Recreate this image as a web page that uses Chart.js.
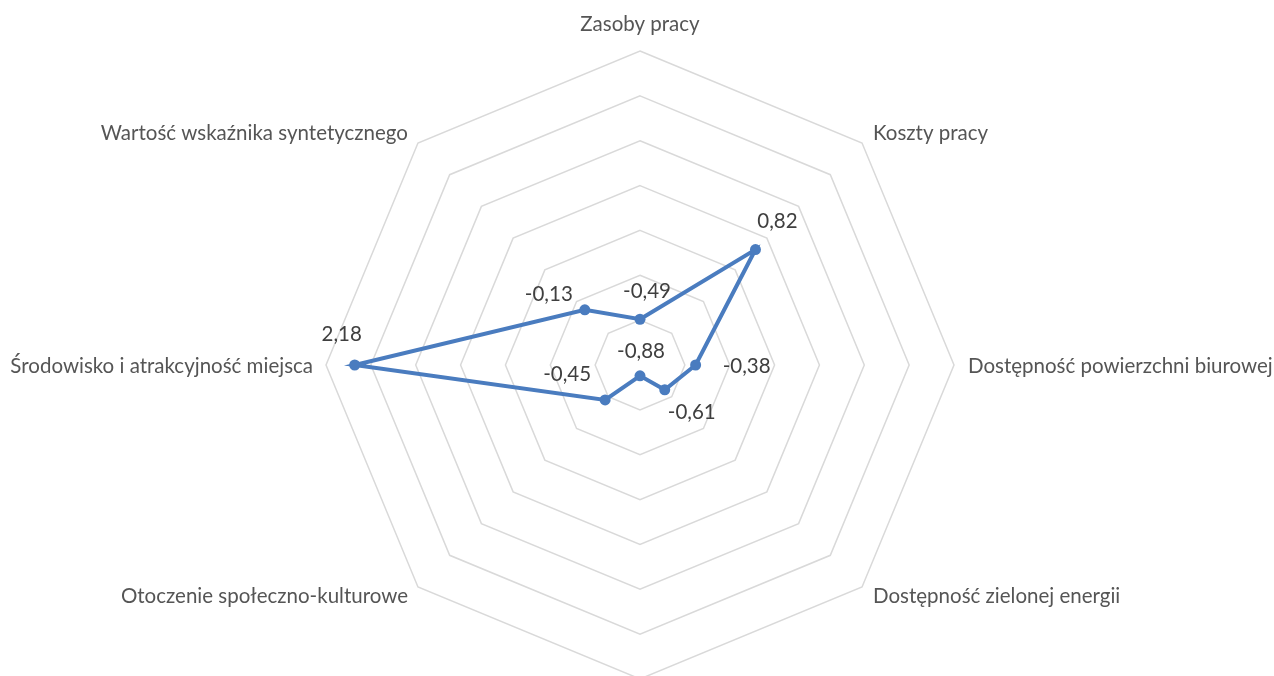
<!DOCTYPE html>
<html>
<head>
<meta charset="utf-8">
<script src="https://cdn.jsdelivr.net/npm/chart.js@4"></script>
<style>
html,body{margin:0;padding:0;background:#fff;overflow:hidden;}
#wrap{width:1274px;height:676px;overflow:hidden;position:relative;}
canvas{display:block;}
</style>
</head>
<body>
<div id="wrap"><canvas id="c" width="1274" height="700"></canvas></div>
<script>
// Categories (bottom axis label lies outside the visible picture)
const categories = [
  "Zasoby pracy",
  "Koszty pracy",
  "Dostępność powierzchni biurowej",
  "Dostępność zielonej energii",
  "",
  "Otoczenie społeczno-kulturowe",
  "Środowisko i atrakcyjność miejsca",
  "Wartość wskaźnika syntetycznego"
];
const values = [-0.49, 0.82, -0.38, -0.61, -0.88, -0.45, 2.18, -0.13];
const scaleMin = -1;
const scaleMax = 2.5;
const scaleStep = 0.5;

// label placement (style): offset of data label centre from its point
const labelOffsets = [[7,-28],[22,-28],[51,1],[27,23],[1,-24],[-38,-26],[-13,-31],[-36,-15]];

const LINE = '#4a7cbf';
const FONT = 'Lato, "Open Sans", sans-serif';

const pointLabelPlugin = {
  id: 'pointLabelsCustom',
  afterDraw(chart) {
    const s = chart.scales.r;
    const ctx = chart.ctx;
    ctx.save();
    ctx.font = '20.5px ' + FONT;
    ctx.fillStyle = '#555555';
    ctx.textBaseline = 'middle';
    categories.forEach((lab, i) => {
      if (!lab) return;
      const p = s.getPointPosition(i, s.drawingArea);
      const a = (i * 360 / categories.length) % 360;
      let x = p.x, y = p.y, align = 'center';
      if (a === 0) { y = p.y - 27; }
      else if (a === 180) { y = p.y + 27; }
      else if (a < 180) {
        align = 'left';
        x = p.x + (a === 90 ? 14 : 11);
        y = p.y + (a === 90 ? 1 : (a < 90 ? -10 : 9));
      } else {
        align = 'right';
        x = p.x - (a === 270 ? 13 : 10);
        y = p.y + (a === 270 ? 1 : (a > 270 ? -10 : 9));
      }
      ctx.textAlign = align;
      ctx.fillText(lab, x, y);
    });
    // data labels
    const meta = chart.getDatasetMeta(0);
    ctx.font = '20.5px ' + FONT;
    ctx.fillStyle = '#3f3f3f';
    ctx.textAlign = 'center';
    meta.data.forEach((pt, i) => {
      const txt = values[i].toFixed(2).replace('.', ',');
      ctx.fillText(txt, pt.x + labelOffsets[i][0], pt.y + labelOffsets[i][1]);
    });
    ctx.restore();
  }
};

new Chart(document.getElementById('c'), {
  type: 'radar',
  data: {
    labels: categories,
    datasets: [{
      data: values,
      borderColor: LINE,
      backgroundColor: LINE,
      borderWidth: 4,
      pointRadius: 5.5,
      pointBorderWidth: 0,
      pointBackgroundColor: LINE,
      fill: false,
      tension: 0
    }]
  },
  options: {
    responsive: false,
    animation: false,
    devicePixelRatio: 1,
    layout: { padding: { top: 51, left: 6, right: 0, bottom: 21 } },
    plugins: { legend: { display: false }, tooltip: { enabled: false } },
    scales: {
      r: {
        min: scaleMin,
        max: scaleMax,
        ticks: { display: false, stepSize: scaleStep },
        grid: { color: '#d9d9d9', lineWidth: 1.5 },
        angleLines: { display: false },
        pointLabels: { display: false }
      }
    }
  },
  plugins: [pointLabelPlugin]
});
</script>
</body>
</html>
